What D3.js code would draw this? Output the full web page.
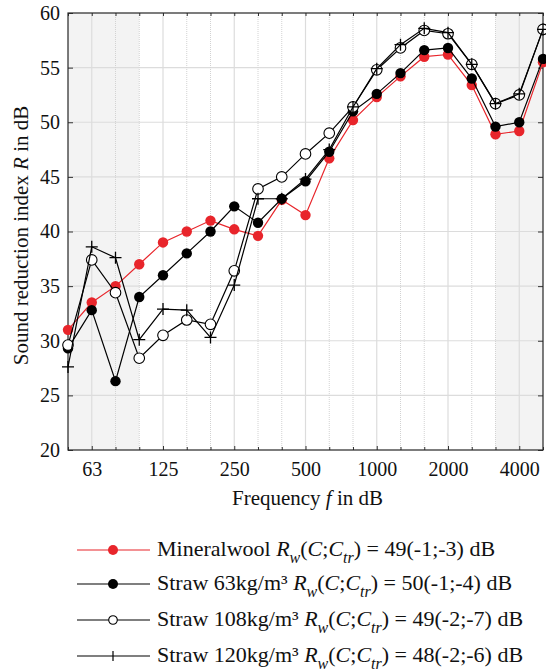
<!DOCTYPE html>
<html>
<head>
<meta charset="utf-8">
<script src="https://cdn.jsdelivr.net/npm/d3@7"></script>
<style>
  body { margin: 0; background: #fff; }
  svg, svg text { font-family: "Liberation Serif", "Tinos", "Times New Roman", "DejaVu Serif", serif; }
</style>
</head>
<body>
<div id="chart"></div>
<script>
// third-octave bands
var bands = ["50","63","80","100","125","160","200","250","315","400","500","630","800","1000","1250","1600","2000","2500","3150","4000","5000"];
var tickLabels = ["63","125","250","500","1000","2000","4000"];
var yTicks = [20, 25, 30, 35, 40, 45, 50, 55, 60];

var mineralwool = [31.0, 33.5, 35.0, 37.0, 39.0, 40.0, 41.0, 40.2, 39.6, 42.9, 41.5, 46.7, 50.2, 52.3, 54.2, 56.0, 56.2, 53.4, 48.9, 49.2, 55.5];
var straw63 = [29.3, 32.8, 26.3, 34.0, 36.0, 38.0, 40.0, 42.3, 40.8, 43.0, 44.6, 47.3, 51.0, 52.6, 54.5, 56.6, 56.8, 54.0, 49.6, 50.0, 55.8];
var straw108 = [29.6, 37.4, 34.4, 28.4, 30.5, 31.9, 31.5, 36.4, 43.9, 45.0, 47.1, 49.0, 51.4, 54.8, 56.8, 58.4, 58.1, 55.3, 51.7, 52.5, 58.5];
var straw120 = [27.6, 38.6, 37.6, 30.1, 32.9, 32.8, 30.3, 35.1, 43.0, 43.0, 44.8, 47.5, 51.4, 54.9, 57.1, 58.6, 58.2, 55.3, 51.7, 52.6, 58.5];

var seriesNames = ["Mineralwool", "Straw 63kg/m³", "Straw 108kg/m³", "Straw 120kg/m³"];
var ratings = ["49(-1;-3)", "50(-1;-4)", "49(-2;-7)", "48(-2;-6)"];

var series = [
  { name: seriesNames[0], rating: ratings[0], values: mineralwool, color: "#e8252b", marker: "dot" },
  { name: seriesNames[1], rating: ratings[1], values: straw63, color: "#000", marker: "dot" },
  { name: seriesNames[2], rating: ratings[2], values: straw108, color: "#000", marker: "open" },
  { name: seriesNames[3], rating: ratings[3], values: straw120, color: "#000", marker: "plus" }
];

var font = '"Liberation Serif", "Tinos", "Times New Roman", "DejaVu Serif", serif';

var width = 546, height = 671;
var margin = { top: 13, right: 3, bottom: 221, left: 68 };
var w = width - margin.left - margin.right,
  h = height - margin.top - margin.bottom;

var svg = d3.select("#chart").append("svg")
  .attr("width", width)
  .attr("height", height);

var g = svg.append("g")
  .attr("transform", "translate(" + margin.left + "," + margin.top + ")");

var x = d3.scalePoint().domain(bands).range([0, w]);
var y = d3.scaleLinear().domain([20, 60]).range([h, 0]);

// shaded ranges outside 100-3150
g.append("rect").attr("x", x("50")).attr("y", 0)
  .attr("width", x("100") - x("50")).attr("height", h).attr("fill", "#f3f3f3");
g.append("rect").attr("x", x("3150")).attr("y", 0)
  .attr("width", x("5000") - x("3150")).attr("height", h).attr("fill", "#f3f3f3");

// grid
g.selectAll(".hgrid").data(yTicks.slice(1, -1)).enter().append("line")
  .attr("x1", 0).attr("x2", w)
  .attr("y1", d => y(d)).attr("y2", d => y(d))
  .attr("stroke", "#dcdcdc").attr("stroke-width", 1.2);

g.selectAll(".vgrid").data(bands.slice(1, -1)).enter().append("line")
  .attr("x1", d => x(d)).attr("x2", d => x(d))
  .attr("y1", 0).attr("y2", h)
  .attr("stroke", d => tickLabels.indexOf(d) >= 0 ? "#dcdcdc" : "#d2d2d2")
  .attr("stroke-dasharray", d => tickLabels.indexOf(d) >= 0 ? null : "1,1")
  .attr("stroke-width", d => tickLabels.indexOf(d) >= 0 ? 1.2 : 1);

// axes
var xAxis = g.append("g")
  .attr("transform", "translate(0," + h + ")")
  .call(d3.axisBottom(x).tickSizeInner(-4).tickSizeOuter(0).tickPadding(12)
    .tickFormat(d => tickLabels.indexOf(d) >= 0 ? d : ""));
xAxis.select(".domain").remove();
xAxis.selectAll(".tick line").attr("y2", d => tickLabels.indexOf(d) >= 0 ? -4 : -3);

g.append("g")
  .call(d3.axisTop(x).tickSizeInner(-3).tickSizeOuter(0).tickFormat(""))
  .select(".domain").remove();

var yAxis = g.append("g")
  .call(d3.axisLeft(y).tickValues(yTicks).tickSizeInner(-5).tickSizeOuter(0).tickPadding(8));
yAxis.select(".domain").remove();

g.append("g")
  .attr("transform", "translate(" + w + ",0)")
  .call(d3.axisRight(y).tickValues(yTicks).tickSizeInner(-5).tickSizeOuter(0).tickFormat(""))
  .select(".domain").remove();

// d3 axes put their own font on the group, override it
g.selectAll("g").attr("font-family", font).attr("font-size", 20);
g.selectAll(".tick line").attr("stroke", "#333");
g.selectAll(".tick text").attr("fill", "#111");

// frame
g.append("rect").attr("x", 0).attr("y", 0).attr("width", w).attr("height", h)
  .attr("fill", "none").attr("stroke", "#262626").attr("stroke-width", 1.2);

// lines
var line = d3.line()
  .x((d, i) => x(bands[i]))
  .y(d => y(d));

function drawMarker(sel, type, color) {
  if (type === "dot") {
    sel.append("circle").attr("r", 5.2).attr("fill", color);
  } else if (type === "open") {
    sel.append("circle").attr("r", 5.3).attr("fill", "#fff").attr("stroke", "#000").attr("stroke-width", 1.1);
  } else {
    sel.append("path").attr("d", "M-6,0H6M0,-6V6").attr("stroke", "#000").attr("stroke-width", 1.3);
  }
}

var plot = g.append("g");
series.forEach(function (s) {
  var sg = plot.append("g");
  sg.append("path")
    .attr("d", line(s.values))
    .attr("fill", "none")
    .attr("stroke", s.color)
    .attr("stroke-width", 1.2);
  sg.selectAll("g.m").data(s.values).enter().append("g")
    .attr("transform", (d, i) => "translate(" + x(bands[i]) + "," + y(d) + ")")
    .each(function () { drawMarker(d3.select(this), s.marker, s.color); });
});

// axis labels
svg.append("text")
  .attr("x", margin.left + w / 2 + 2)
  .attr("y", 505)
  .attr("text-anchor", "middle")
  .attr("font-family", font)
  .attr("font-size", 21)
  .attr("fill", "#111")
  .html('Frequency <tspan font-style="italic">f</tspan> in dB');

svg.append("text")
  .attr("transform", "translate(28," + (margin.top + h / 2 + 4) + ") rotate(-90)")
  .attr("text-anchor", "middle")
  .attr("font-family", font)
  .attr("font-size", 21)
  .attr("fill", "#111")
  .html('Sound reduction index <tspan font-style="italic">R</tspan> in dB');

// legend
var legendY = [550, 584, 620, 656];
var legend = svg.append("g");
series.forEach(function (s, i) {
  var lg = legend.append("g").attr("transform", "translate(0," + legendY[i] + ")");
  lg.append("line").attr("x1", 77).attr("x2", 150).attr("y1", 0).attr("y2", 0)
    .attr("stroke", s.color).attr("stroke-width", 1.2);
  var m = lg.append("g").attr("transform", "translate(113,0)");
  if (s.marker === "dot") m.append("circle").attr("r", 5).attr("fill", s.color);
  else if (s.marker === "open") m.append("circle").attr("r", 4.3).attr("fill", "#fff").attr("stroke", "#000").attr("stroke-width", 1.1);
  else m.append("path").attr("d", "M0,-5V5").attr("stroke", "#000").attr("stroke-width", 1.2);

  var t = lg.append("text").attr("x", 157).attr("y", 6)
    .attr("font-family", font)
    .attr("font-size", 22).attr("fill", "#111");
  t.append("tspan").text(s.name + " ");
  t.append("tspan").attr("font-style", "italic").text("R");
  t.append("tspan").attr("font-style", "italic").attr("font-size", 16).attr("dy", 7).text("w");
  t.append("tspan").attr("dy", -7).text("(");
  t.append("tspan").attr("font-style", "italic").text("C");
  t.append("tspan").text(";");
  t.append("tspan").attr("font-style", "italic").text("C");
  t.append("tspan").attr("font-style", "italic").attr("font-size", 16).attr("dy", 7).text("tr");
  t.append("tspan").attr("dy", -7).text(") = " + s.rating + " dB");
});
</script>
</body>
</html>
